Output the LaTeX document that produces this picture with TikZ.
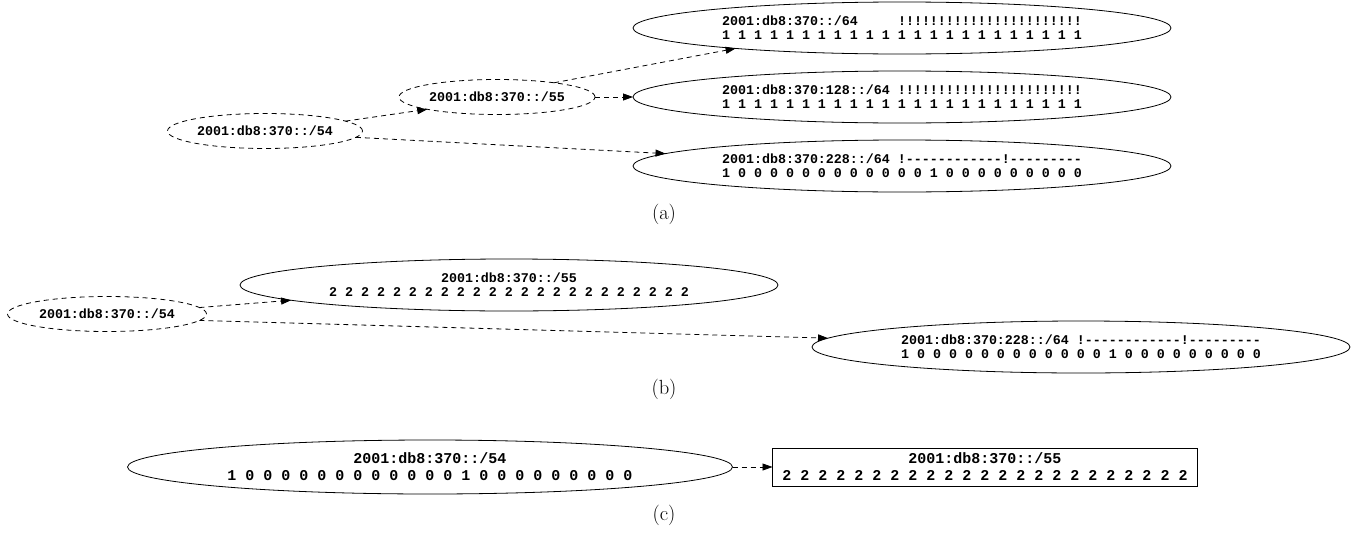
\documentclass[tikz,border=0pt]{standalone}
\usepackage{fontspec}
\setmonofont{Liberation Mono}
\usetikzlibrary{shapes.geometric,arrows.meta}
\begin{document}
\begin{tikzpicture}[x=1pt,y=-1pt,
  every node/.style={inner sep=0pt, outer sep=0pt},
  lbl/.style={font=\ttfamily\bfseries\frenchspacing\fontsize{13.33}{14}\selectfont, align=center},
  lblc/.style={font=\ttfamily\bfseries\frenchspacing\fontsize{15}{17}\selectfont, align=center},
  ell/.style={draw, ellipse, line width=0.8pt},
  dell/.style={ell, dash pattern=on 5pt off 4pt},
  conn/.style={draw, line width=0.8pt, dash pattern=on 5pt off 4pt, -{Triangle[length=10pt,width=7pt]}},
  captxt/.style={font=\fontsize{20.5}{22}\selectfont}
]
\useasboundingbox (0,0) rectangle (1353,533);
% (a)
\node[dell, lbl, minimum width=195, minimum height=35] (a54) at (265,131) {2001:db8:370::/54};
\node[dell, lbl, minimum width=196, minimum height=35] (a55) at (497,97) {2001:db8:370::/55};
\node[ell, lbl, minimum width=538, minimum height=52] (t1) at (902,28) {2001:db8:370::/64\phantom{00000}!!!!!!!!!!!!!!!!!!!!!!!\\1 1 1 1 1 1 1 1 1 1 1 1 1 1 1 1 1 1 1 1 1 1 1};
\node[ell, lbl, minimum width=538, minimum height=52] (t2) at (902,97) {2001:db8:370:128::/64 !!!!!!!!!!!!!!!!!!!!!!!\\1 1 1 1 1 1 1 1 1 1 1 1 1 1 1 1 1 1 1 1 1 1 1};
\node[ell, lbl, minimum width=538, minimum height=52] (t3) at (902,166) {2001:db8:370:228::/64 !------------!---------\\1 0 0 0 0 0 0 0 0 0 0 0 0 1 0 0 0 0 0 0 0 0 0};
\draw[conn] (a54.7) -- (a55.190);
\draw[conn] (a55.14) -- (t1.187);
\draw[conn] (a55.east) -- (t2.west);
\draw[conn] (a54.-4) -- (t3.177);
\node[captxt] (capa) at (664,214) {(a)};
% (b)
\node[dell, lbl, minimum width=199, minimum height=35] (b54) at (107,314) {2001:db8:370::/54};
\node[ell, lbl, minimum width=538, minimum height=52] (b55) at (509,285) {2001:db8:370::/55\\2 2 2 2 2 2 2 2 2 2 2 2 2 2 2 2 2 2 2 2 2 2 2};
\node[ell, lbl, minimum width=538, minimum height=52] (b228) at (1081,347) {2001:db8:370:228::/64 !------------!---------\\1 0 0 0 0 0 0 0 0 0 0 0 0 1 0 0 0 0 0 0 0 0 0};
\draw[conn] (b54.4) -- (b55.184);
\draw[conn] (b54.-4) -- (b228.178);
\node[captxt] (capb) at (664,389) {(b)};
% (c)
\node[ell, lblc, minimum width=605, minimum height=54] (c54) at (430,467) {2001:db8:370::/54\\1 0 0 0 0 0 0 0 0 0 0 0 0 1 0 0 0 0 0 0 0 0 0};
\node[draw, line width=0.8pt, lblc, minimum width=425, minimum height=38] (c55) at (985,467) {2001:db8:370::/55\\2 2 2 2 2 2 2 2 2 2 2 2 2 2 2 2 2 2 2 2 2 2 2};
\draw[conn] (c54.east) -- (c55.west);
\node[captxt] (capc) at (664,515) {(c)};
\end{tikzpicture}
\end{document}
